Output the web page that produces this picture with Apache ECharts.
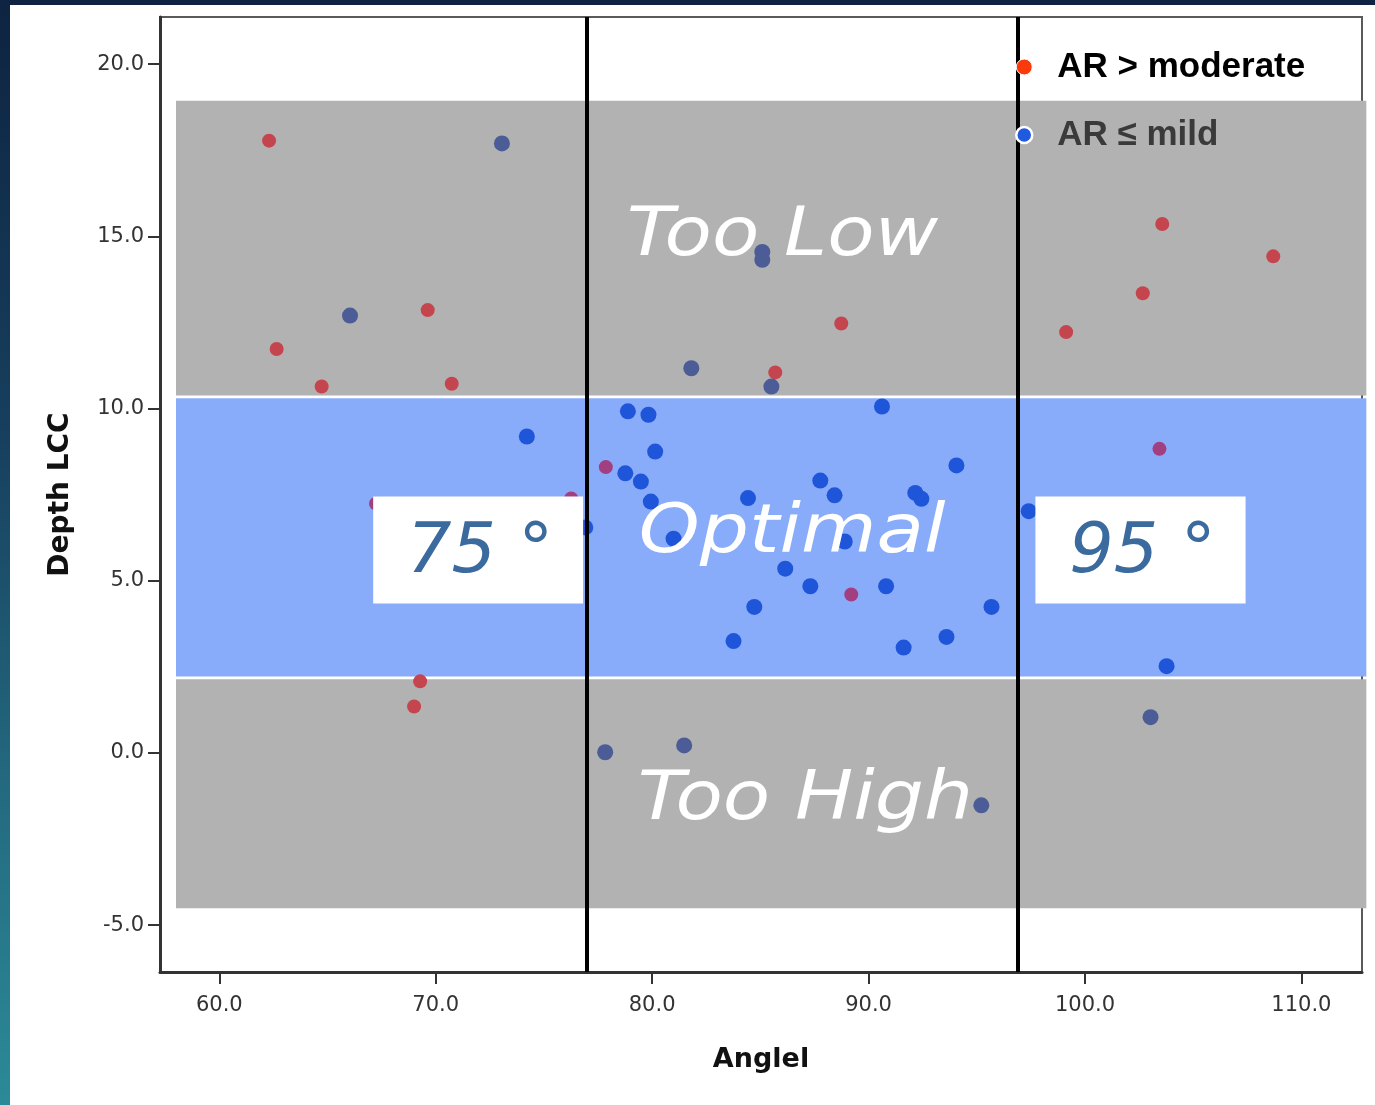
<!DOCTYPE html>
<html>
<head>
<meta charset="utf-8">
<script src="https://cdn.jsdelivr.net/npm/echarts@6/dist/echarts.min.js"></script>
<style>
  html, body { margin: 0; padding: 0; width: 1375px; height: 1105px; overflow: hidden;
    background: linear-gradient(to bottom, #0d2341 0%, #17405e 40%, #23687e 70%, #2b8a98 100%); }
  #chart { position: absolute; left: 10px; top: 5px; width: 1365px; height: 1100px; background: #ffffff; }
</style>
</head>
<body>
<div id="chart"></div>
<script>
// ---------- data ----------
const xTicks = [60, 70, 80, 90, 100, 110];
const yTicks = [-5, 0, 5, 10, 15, 20];

// AR > moderate  [Angle, Depth LCC]
const moderateData = [
  [62.30, 17.78], [69.63, 12.86], [62.65, 11.73], [64.73, 10.64], [70.74, 10.72],
  [88.74, 12.47], [85.69, 11.05], [103.57, 15.36], [108.70, 14.42], [102.67, 13.35],
  [99.13, 12.22], [77.86, 8.30], [89.20, 4.60], [103.44, 8.83], [67.24, 7.24],
  [76.26, 7.39], [69.28, 2.08], [69.00, 1.35]
];
// AR <= mild  [Angle, Depth LCC]
const mildData = [
  [73.06, 17.70], [66.04, 12.70], [85.09, 14.55], [85.09, 14.32], [81.81, 11.17],
  [85.51, 10.64], [74.21, 9.19], [78.88, 9.92], [79.83, 9.82], [90.62, 10.06],
  [80.14, 8.75], [78.76, 8.12], [79.48, 7.88], [79.94, 7.30], [84.43, 7.40],
  [87.77, 7.91], [88.43, 7.48], [92.16, 7.55], [92.44, 7.38], [94.06, 8.35],
  [80.99, 6.22], [88.90, 6.14], [86.15, 5.35], [87.31, 4.84], [90.81, 4.84],
  [84.72, 4.24], [95.68, 4.24], [83.76, 3.25], [91.62, 3.06], [93.60, 3.37],
  [97.40, 7.02], [103.77, 2.52], [103.03, 1.04], [77.83, 0.02], [81.48, 0.22],
  [95.21, -1.52], [76.91, 6.55]
];

// zones (bands): [xMin, xMax, yMin, yMax]
const zoneNames = ['Too Low', 'Optimal', 'Too High'];
const zoneBands = [
  [58, 113, 10.38, 18.94],
  [58, 113, 2.22, 10.30],
  [58, 113, -4.51, 2.14]
];
// zone label anchor [x, y]
const zoneLabelPos = [[86.02, 14.96], [86.47, 6.345], [87.08, -1.405]];

// angle limits
const angleLimits = [77, 96.9];
const angleLabels = ['75 °', '95 °'];
const angleBoxes = [
  [67.11, 76.81, 4.343, 7.447],
  [97.71, 107.42, 4.343, 7.447]
];

// optimal depth range used for point tone
const optimalRange = [2.2, 10.35];

// ---------- chart ----------
const chart = echarts.init(document.getElementById('chart'));
const bandFill = ['#b2b2b2', '#88acfa', '#b2b2b2'];

const option = {
  animation: false,
  grid: { left: 150, right: 13, top: 12, bottom: 133, show: true, borderColor: '#5a5a5a', borderWidth: 2, backgroundColor: 'transparent' },
  xAxis: {
    type: 'value', min: 57.26, max: 112.8,
    name: 'Anglel', nameLocation: 'middle', nameGap: 74,
    nameTextStyle: { fontFamily: 'DejaVu Sans', fontWeight: 'bold', fontSize: 27, color: '#111' },
    axisLine: { show: true, onZero: false, lineStyle: { color: '#333', width: 3 } },
    axisTick: { show: true, length: 12, lineStyle: { color: '#333', width: 2 }, customValues: xTicks },
    axisLabel: { margin: 23, fontFamily: 'DejaVu Sans', fontSize: 21, color: '#333', customValues: xTicks,
      formatter: v => v.toFixed(1) },
    splitLine: { show: false }
  },
  yAxis: {
    type: 'value', min: -6.36, max: 21.37,
    name: 'Depth LCC', nameLocation: 'middle', nameGap: 85, nameRotate: 90,
    nameTextStyle: { fontFamily: 'DejaVu Sans', fontWeight: 'bold', fontSize: 28, color: '#111' },
    axisLine: { show: true, onZero: false, lineStyle: { color: '#333', width: 3 } },
    axisTick: { show: true, length: 12, lineStyle: { color: '#333', width: 2 }, customValues: yTicks },
    axisLabel: { margin: 16, fontFamily: 'DejaVu Sans', fontSize: 21, color: '#333', customValues: yTicks,
      formatter: v => v.toFixed(1) },
    splitLine: { show: false }
  },
  legend: {
    orient: 'vertical', left: 1005, top: 42, padding: 0, z: 10,
    itemWidth: 56, itemHeight: 16, itemGap: 28,
    textStyle: { fontFamily: 'Liberation Sans, Arial', fontWeight: 'bold', fontSize: 35, lineHeight: 40 },
    data: [
      { name: 'AR > moderate', icon: 'circle', itemStyle: { color: '#fb3a0c', borderColor: '#fff', borderWidth: 1 }, textStyle: { color: '#000' } },
      { name: 'AR ≤ mild', icon: 'circle', itemStyle: { color: '#1f5ae0', borderColor: '#fff', borderWidth: 2.5 }, textStyle: { color: '#3a3a3a' } }
    ]
  },
  visualMap: [
    { type: 'piecewise', show: false, seriesIndex: 1, dimension: 1,
      pieces: [ { gt: optimalRange[0], lte: optimalRange[1], color: '#a23f80' },
                { lte: optimalRange[0], color: '#c4454d' },
                { gt: optimalRange[1], color: '#c4454d' } ] },
    { type: 'piecewise', show: false, seriesIndex: 2, dimension: 1,
      pieces: [ { gt: optimalRange[0], lte: optimalRange[1], color: '#1f55d9' },
                { lte: optimalRange[0], color: '#4b5c96' },
                { gt: optimalRange[1], color: '#4b5c96' } ] }
  ],
  series: [
    {
      name: 'bands', type: 'custom', z: 1, silent: true,
      data: zoneBands,
      encode: { x: [0, 1], y: [2, 3] },
      renderItem: function (params, api) {
        const p0 = api.coord([api.value(0), api.value(3)]);
        const p1 = api.coord([api.value(1), api.value(2)]);
        return { type: 'rect', shape: { x: p0[0], y: p0[1], width: p1[0] - p0[0], height: p1[1] - p0[1] },
                 style: { fill: bandFill[params.dataIndex] } };
      }
    },
    {
      name: 'AR > moderate', type: 'scatter', z: 2, symbol: 'circle', symbolSize: 14,
      itemStyle: { color: '#fb3a0c', opacity: 1 },
      data: moderateData,
      markLine: {
        silent: true, symbol: ['none', 'none'], animation: false,
        label: { show: false },
        lineStyle: { color: '#000', width: 4, type: 'solid' },
        emphasis: { disabled: true },
        data: angleLimits.map(v => ({ xAxis: v }))
      }
    },
    {
      name: 'AR ≤ mild', type: 'scatter', z: 2, symbol: 'circle', symbolSize: 16,
      itemStyle: { color: '#1f5ae0', opacity: 1 },
      data: mildData
    },
    {
      name: 'angleBoxes', type: 'custom', z: 3, silent: true,
      data: angleBoxes,
      encode: { x: [0, 1], y: [2, 3] },
      renderItem: function (params, api) {
        const p0 = api.coord([api.value(0), api.value(3)]);
        const p1 = api.coord([api.value(1), api.value(2)]);
        return { type: 'group', children: [
          { type: 'rect', shape: { x: p0[0], y: p0[1], width: p1[0] - p0[0], height: p1[1] - p0[1] }, style: { fill: '#ffffff' } },
          { type: 'text', x: (p0[0] + p1[0]) / 2 + 2, y: (p0[1] + p1[1]) / 2 + 4,
            style: { text: angleLabels[params.dataIndex], fill: '#3a6a9e', align: 'center', verticalAlign: 'middle',
                     font: 'italic 300 70px "DejaVu Sans"' } }
        ] };
      }
    },
    {
      name: 'zoneLabels', type: 'custom', z: 6, silent: true,
      data: zoneLabelPos,
      encode: { x: 0, y: 1 },
      renderItem: function (params, api) {
        const p = api.coord([api.value(0), api.value(1)]);
        return { type: 'text', x: p[0], y: p[1], scaleX: 1.14, scaleY: 1,
                 style: { text: zoneNames[params.dataIndex], fill: '#ffffff', align: 'center', verticalAlign: 'middle',
                          font: 'italic 300 68px "DejaVu Sans"' } };
      }
    }
  ]
};
chart.setOption(option);
</script>
</body>
</html>
